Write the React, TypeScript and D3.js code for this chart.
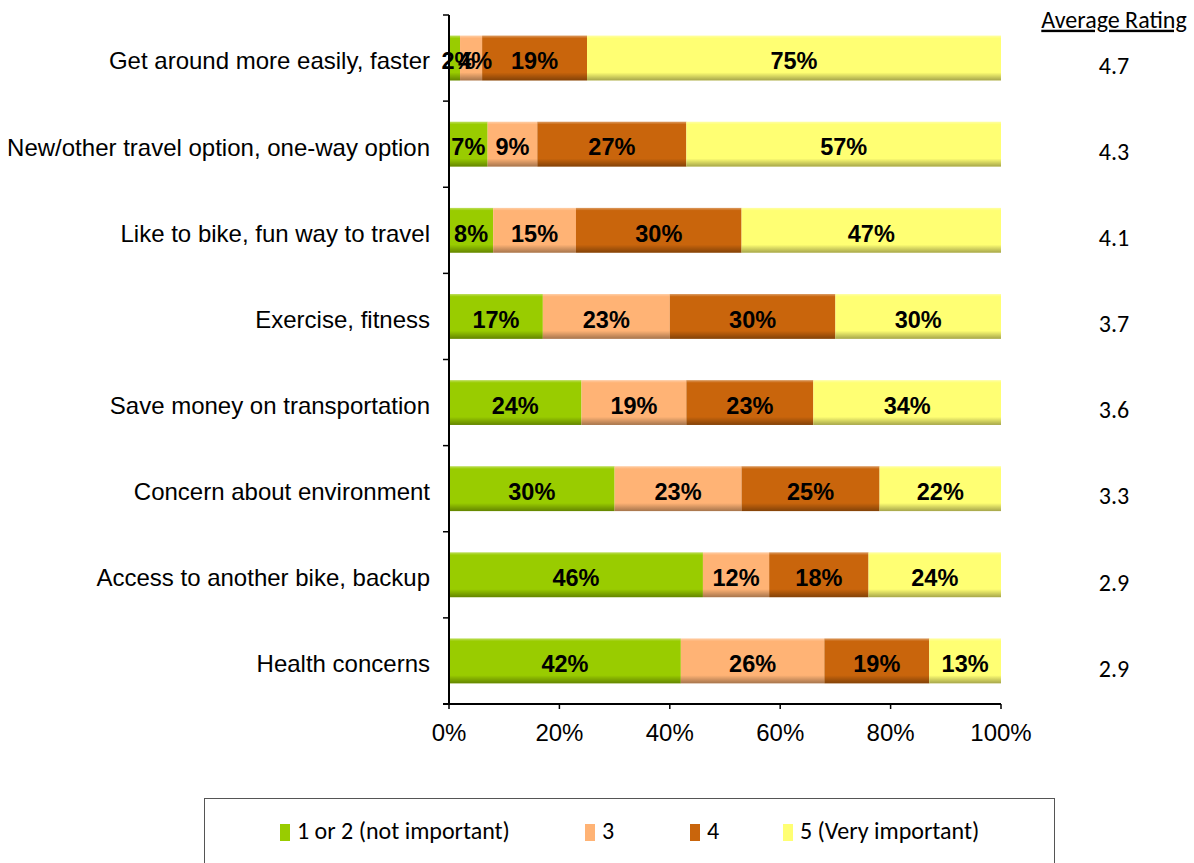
import React from "react";
import * as d3 from "d3";

const categories = [
  "Get around more easily, faster",
  "New/other travel option, one-way option",
  "Like to bike, fun way to travel",
  "Exercise, fitness",
  "Save money on transportation",
  "Concern about environment",
  "Access to another bike, backup",
  "Health concerns",
];
const seriesNames = ["1 or 2 (not important)", "3", "4", "5 (Very important)"];
const rating12 = [2, 7, 8, 17, 24, 30, 46, 42];
const rating3 = [4, 9, 15, 23, 19, 23, 12, 26];
const rating4 = [19, 27, 30, 30, 23, 25, 18, 19];
const rating5 = [75, 57, 47, 30, 34, 22, 24, 13];
const averageRatings = ["4.7", "4.3", "4.1", "3.7", "3.6", "3.3", "2.9", "2.9"];
const xTicks = [0, 20, 40, 60, 80, 100];
const colors = ["#99CC00", "#FFB375", "#C9650C", "#FFFF73"];

const W = 1194;
const H = 863;
const x0 = 449;
const x1 = 1001;
const yTop = 15;
const yBot = 704;

export default function App() {
  const x = d3.scaleLinear().domain([0, 100]).range([x0, x1]);
  const y = d3.scaleBand<string>().domain(categories).range([yTop, yBot]).paddingInner(0.48).paddingOuter(0.24);
  const series = [rating12, rating3, rating4, rating5];
  const rows = categories.map((c, i) => {
    let acc = 0;
    return series.map((s, k) => {
      const start = acc;
      acc += s[i];
      return { k, start, end: acc, v: s[i] };
    });
  });
  const step = (yBot - yTop) / categories.length;
  const bounds = d3.range(categories.length + 1).map((i) => yTop + i * step);
  const sans = "Arial, 'Liberation Sans', sans-serif";
  const cal = "Carlito, 'Open Sans', sans-serif";
  const legendX = [280, 585, 690, 783];

  return (
    <svg width={W} height={H} style={{ position: "absolute", left: 0, top: 0, background: "#fff" }}>
      <defs>
        <linearGradient id="shade" x1="0" y1="0" x2="0" y2="1">
          <stop offset="0" stopColor="#fff" stopOpacity={0.35} />
          <stop offset="0.06" stopColor="#fff" stopOpacity={0.0} />
          <stop offset="0.82" stopColor="#000" stopOpacity={0.0} />
          <stop offset="1" stopColor="#000" stopOpacity={0.35} />
        </linearGradient>
      </defs>
      {rows.map((segs, i) =>
        segs.map((s) => (
          <g key={`${i}-${s.k}`}>
            <rect x={x(s.start)} y={y(categories[i])} width={x(s.end) - x(s.start)} height={y.bandwidth()} fill={colors[s.k]} />
            <rect x={x(s.start)} y={y(categories[i])} width={x(s.end) - x(s.start)} height={y.bandwidth()} fill="url(#shade)" />
          </g>
        ))
      )}
      {rows.map((segs, i) =>
        segs.map((s) => (
          <text
            key={`t${i}-${s.k}`}
            x={x((s.start + s.end) / 2) + (i === 0 && s.k < 2 ? 4 : 0)}
            y={(y(categories[i]) as number) + y.bandwidth() / 2 + 5}
            textAnchor="middle"
            dominantBaseline="middle"
            fontFamily={sans}
            fontWeight="bold"
            fontSize={23.5}
            fill="#000"
          >
            {s.v}%
          </text>
        ))
      )}
      {categories.map((c, i) => (
        <text key={c} x={430} y={(y(c) as number) + y.bandwidth() / 2 + 5} textAnchor="end" dominantBaseline="middle" fontFamily={sans} fontSize={24} fill="#000">
          {c}
        </text>
      ))}
      {/* y axis */}
      <line x1={x0} x2={x0} y1={yTop} y2={yBot + 1} stroke="#000" strokeWidth={2} />
      {bounds.map((b, i) => (
        <line key={i} x1={x0 - 6} x2={x0} y1={b} y2={b} stroke="#000" strokeWidth={1.5} />
      ))}
      {/* x axis */}
      <line x1={x0 - 6} x2={x1} y1={yBot} y2={yBot} stroke="#000" strokeWidth={2} />
      {xTicks.map((t) => (
        <g key={t}>
          <line x1={x(t)} x2={x(t)} y1={yBot} y2={yBot + 5} stroke="#000" strokeWidth={1.5} />
          <text x={x(t)} y={735} textAnchor="middle" dominantBaseline="middle" fontFamily={sans} fontSize={24} fill="#000">
            {t}%
          </text>
        </g>
      ))}
      {/* average rating */}
      <text x={1114} y={22} textAnchor="middle" dominantBaseline="middle" fontFamily={cal} fontSize={24} fill="#000" textDecoration="underline">
        Average Rating
      </text>
      {averageRatings.map((r, i) => (
        <text key={i} x={1114} y={(y(categories[i]) as number) + y.bandwidth() / 2 + 10} textAnchor="middle" dominantBaseline="middle" fontFamily={cal} fontSize={24} fill="#000">
          {r}
        </text>
      ))}
      {/* legend */}
      <rect x={204.5} y={798.5} width={850} height={80} fill="#fff" stroke="#555" strokeWidth={1} />
      {seriesNames.map((n, k) => (
        <g key={n}>
          <rect x={legendX[k]} y={824} width={10} height={17} fill={colors[k]} />
          <text x={legendX[k] + 17} y={833} dominantBaseline="middle" fontFamily={cal} fontSize={24} fill="#000">
            {n}
          </text>
        </g>
      ))}
    </svg>
  );
}
